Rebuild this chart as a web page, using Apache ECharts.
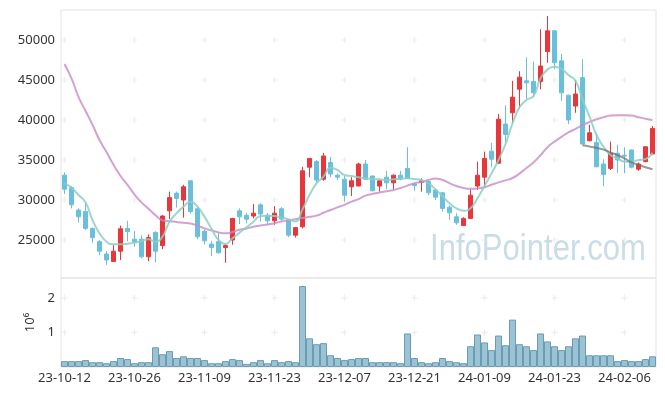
<!DOCTYPE html>
<html>
<head>
<meta charset="utf-8">
<script src="https://cdn.jsdelivr.net/npm/echarts@6/dist/echarts.min.js"></script>
<style>
html,body{margin:0;padding:0;background:#fff;}
#chart{width:665px;height:396px;}
</style>
</head>
<body>
<div id="chart"></div>
<script>
const dates = ['23-10-12','23-10-13','23-10-16','23-10-17','23-10-18','23-10-19','23-10-20','23-10-23','23-10-24','23-10-25','23-10-26','23-10-27','23-10-30','23-10-31',
'23-11-01','23-11-02','23-11-03','23-11-06','23-11-07','23-11-08','23-11-09','23-11-10','23-11-13','23-11-14','23-11-15','23-11-16','23-11-17','23-11-20','23-11-21','23-11-22','23-11-23','23-11-24','23-11-27','23-11-28','23-11-29','23-11-30',
'23-12-01','23-12-04','23-12-05','23-12-06','23-12-07','23-12-08','23-12-11','23-12-12','23-12-13','23-12-14','23-12-15','23-12-18','23-12-19','23-12-20','23-12-21','23-12-22','23-12-26','23-12-27','23-12-28',
'24-01-02','24-01-03','24-01-04','24-01-05','24-01-08','24-01-09','24-01-10','24-01-11','24-01-12','24-01-15','24-01-16','24-01-17','24-01-18','24-01-19','24-01-22','24-01-23','24-01-24','24-01-25','24-01-26','24-01-29','24-01-30','24-01-31',
'24-02-01','24-02-02','24-02-05','24-02-06','24-02-07','24-02-08','24-02-13','24-02-14'];

const opens  = [33100,31550,28750,28550,26450,24800,23250,22300,23600,26450,25100,25100,22900,25950,24300,28650,30850,30000,32400,28900,26100,24500,24800,24050,25000,28650,28100,28000,29400,28100,27400,28900,27500,25600,26650,34100,34800,32600,34700,33100,32600,31650,31750,34500,33000,31750,32850,32150,33100,33950,32000,32200,32300,31250,30900,29100,27900,26800,27700,31750,32850,36100,34600,39500,40900,43850,44900,44800,44800,48550,51150,47400,43100,41750,45300,37400,37200,34500,33950,35850,35600,36250,33850,34800,35750];
const closes = [31350,29400,27900,26450,25300,23600,22500,23600,26400,26050,24800,22900,25300,23600,28000,30300,30200,31650,28550,25400,24900,24050,23400,24300,27700,27900,27600,28350,28250,27400,28350,27600,25600,26550,33650,35200,32500,35500,33250,32850,30600,32400,34500,32600,31150,32400,32150,33100,32600,32700,31800,32400,30900,30350,28950,28400,27150,27700,30600,33100,35200,35100,40100,38200,42850,45350,44650,43400,46750,51150,47150,43400,40000,43250,37000,38400,34150,33200,35850,35000,35500,34100,34500,36650,38950];
const lows   = [30750,28950,27200,26250,24600,23100,21900,22250,22500,24850,24150,22700,22350,22200,23850,27600,29050,27800,28300,25100,24450,23000,23300,22150,24400,27000,27100,27700,27300,26900,26900,27400,25350,25300,26450,32850,32100,32400,32850,32500,29800,30500,31700,32500,31100,31050,31350,31350,32450,32650,31150,31050,30600,30000,28550,27500,26900,26750,27650,31250,31650,34100,34550,37200,39600,41450,42600,42850,43850,47150,46350,42400,39500,40900,36950,37350,34100,31750,33750,33400,33350,33950,33650,34700,35700];
const highs  = [33450,31750,28950,29600,26550,25000,23600,24400,26800,27400,26100,25600,25700,26100,28100,31050,31050,31900,32500,29150,26300,24900,25850,24600,27750,28950,28400,29500,29600,28350,29250,29100,27550,26600,34150,35250,35000,35900,35400,33300,33000,32850,34650,35000,33050,32450,33650,33200,33650,36600,32150,32700,32400,31400,31000,29300,28350,27850,31350,34800,36050,37150,40750,41850,44900,46100,47850,47300,51350,53000,51200,48250,43150,45000,47600,39400,38400,35100,37300,36900,36600,36300,34700,36700,39250];

const volumes = [170000,170000,170000,200000,140000,140000,110000,170000,260000,230000,110000,140000,140000,570000,370000,460000,260000,310000,260000,260000,200000,110000,110000,170000,230000,200000,90000,140000,200000,110000,200000,140000,170000,140000,2340000,830000,660000,690000,340000,260000,200000,230000,260000,260000,140000,140000,140000,140000,110000,970000,260000,140000,110000,140000,260000,170000,140000,110000,600000,940000,710000,490000,910000,630000,1370000,660000,600000,490000,970000,740000,600000,490000,600000,830000,910000,340000,340000,340000,340000,170000,200000,170000,170000,230000,310000];

const maShort = [32080,31540,30625,29710,27500,25830,24790,24460,24460,24540,24670,24875,25080,24790,25420,27290,28330,29170,29790,29170,27920,26400,25000,24500,25210,25920,26580,27290,28000,28040,28000,27790,27600,27300,28830,30625,32080,32920,34040,33750,33125,33000,32830,32710,32625,32580,32500,32580,32670,32710,32625,32500,32080,31330,30500,29580,28960,28670,28960,30210,31750,33330,35000,37000,39580,41580,42500,43000,45210,46330,46670,46375,45625,44920,42580,40420,38125,36670,35625,35210,34790,34790,35000,35125,35920];
const maLong = [47000,45200,42900,41150,39400,37500,36000,34400,33000,31900,30700,29700,28900,28100,27450,27350,27250,27150,27050,26800,26450,26200,25950,25830,26000,26280,26450,26650,26800,26950,27100,27300,27450,27600,27750,27900,28050,28400,28750,29080,29400,29800,30100,30550,30750,30950,31100,31250,31500,31800,32100,32250,32500,32700,32500,32100,31750,31500,31400,31450,31600,31900,32200,32450,32750,33300,34000,34700,35600,36600,37300,37900,38450,38900,39350,39750,40100,40350,40550,40600,40600,40550,40350,40150,40000];
const maTrend = [null,null,null,null,null,null,null,null,null,null,null,null,null,null,null,null,null,null,null,null,null,null,null,null,null,null,null,null,null,null,null,null,null,null,null,null,null,null,null,null,null,null,null,null,null,null,null,null,null,null,null,null,null,null,null,null,null,null,null,null,null,null,null,null,null,null,null,null,null,null,null,null,null,null,36850,36700,36500,36300,35950,35600,35200,34700,34400,34100,33850];

const priceTicks = [25000,30000,35000,40000,45000,50000];
const volumeTicks = [1000000,2000000];
const xTickIndex = [0,10,20,30,40,50,60,70,80];

const candleData = opens.map((o,i)=>[o, closes[i], lows[i], highs[i]]);
const plusPrice = [];
xTickIndex.forEach(x=>priceTicks.forEach(v=>plusPrice.push([x,v])));
const plusVol = [];
xTickIndex.forEach(x=>volumeTicks.forEach(v=>plusVol.push([x,v])));

const plusSymbol = 'path://M2,0H3V2H5V3H3V5H2V3H0V2H2Z';
const labelFont = {fontFamily:'Noto Sans', fontSize:13, color:'#333'};

const chart = echarts.init(document.getElementById('chart'), null, {renderer:'canvas'});
chart.setOption({
  animation:false,
  backgroundColor:'#fff',
  grid:[
    {left:61,right:9,top:10,height:268,show:true,borderColor:'#e3e3e3',borderWidth:1},
    {left:61,right:9,top:278,height:89,show:true,borderColor:'#e3e3e3',borderWidth:1}
  ],
  xAxis:[
    {type:'category',gridIndex:0,data:dates,boundaryGap:true,axisLine:{show:false},axisTick:{show:false},axisLabel:{show:false},splitLine:{show:false}},
    {type:'category',gridIndex:1,data:dates,boundaryGap:true,axisLine:{show:false},axisTick:{show:false},
     axisLabel:Object.assign({interval:9,margin:5},labelFont),splitLine:{show:false}}
  ],
  yAxis:[
    {type:'value',gridIndex:0,min:20250,max:53750,splitNumber:5,scale:true,
     axisLine:{show:false},axisTick:{show:false},splitLine:{show:false},
     axisLabel:Object.assign({margin:6,showMinLabel:false,showMaxLabel:false,
       formatter:v=>(priceTicks.indexOf(v)>=0?String(v):'')},labelFont)},
    {type:'value',gridIndex:1,min:0,max:2574000,interval:1000000,
     name:'10\u2076',nameLocation:'middle',nameRotate:90,nameGap:20,
     nameTextStyle:{fontFamily:'Noto Sans',fontSize:13,color:'#333'},
     axisLine:{show:false},axisTick:{show:false},splitLine:{show:false},
     axisLabel:Object.assign({margin:6,showMaxLabel:false,
       formatter:v=>(volumeTicks.indexOf(v)>=0?String(v/1000000):'')},labelFont)}
  ],
  graphic:[{
    type:'text',z:0,x:430,y:268,scaleX:0.84,
    style:{text:'InfoPointer.com',font:'37px "Liberation Sans", Arial, sans-serif',fill:'#cadde7',textVerticalAlign:'bottom'}
  }],
  series:[
    {type:'scatter',xAxisIndex:0,yAxisIndex:0,data:plusPrice,symbol:plusSymbol,symbolSize:6,itemStyle:{color:'#e8e8e8'},silent:true,z:1},
    {type:'scatter',xAxisIndex:1,yAxisIndex:1,data:plusVol,symbol:plusSymbol,symbolSize:6,itemStyle:{color:'#e8e8e8'},silent:true,z:1},
    {type:'candlestick',xAxisIndex:0,yAxisIndex:0,data:candleData,barWidth:5,z:3,
     itemStyle:{color:'#e8363a',color0:'#6ac0da',borderColor:'#e8363a',borderColor0:'#6ac0da',borderWidth:1}},
    {type:'line',xAxisIndex:0,yAxisIndex:0,data:maLong,smooth:true,showSymbol:false,z:4,
     lineStyle:{color:'#c88ac8',width:2,opacity:0.8}},
    {type:'line',xAxisIndex:0,yAxisIndex:0,data:maShort,smooth:true,showSymbol:false,z:4,
     lineStyle:{color:'#8ccfc3',width:2,opacity:0.85}},
    {type:'line',xAxisIndex:0,yAxisIndex:0,data:maTrend,smooth:true,showSymbol:false,connectNulls:false,z:4,
     lineStyle:{color:'#6e6e6e',width:2,opacity:0.7}},
    {type:'bar',xAxisIndex:1,yAxisIndex:1,data:volumes,barWidth:'100%',barCategoryGap:0,z:3,
     itemStyle:{color:'#9cc3d4',borderColor:'#6a9db5',borderWidth:1}}
  ]
});
</script>
</body>
</html>
